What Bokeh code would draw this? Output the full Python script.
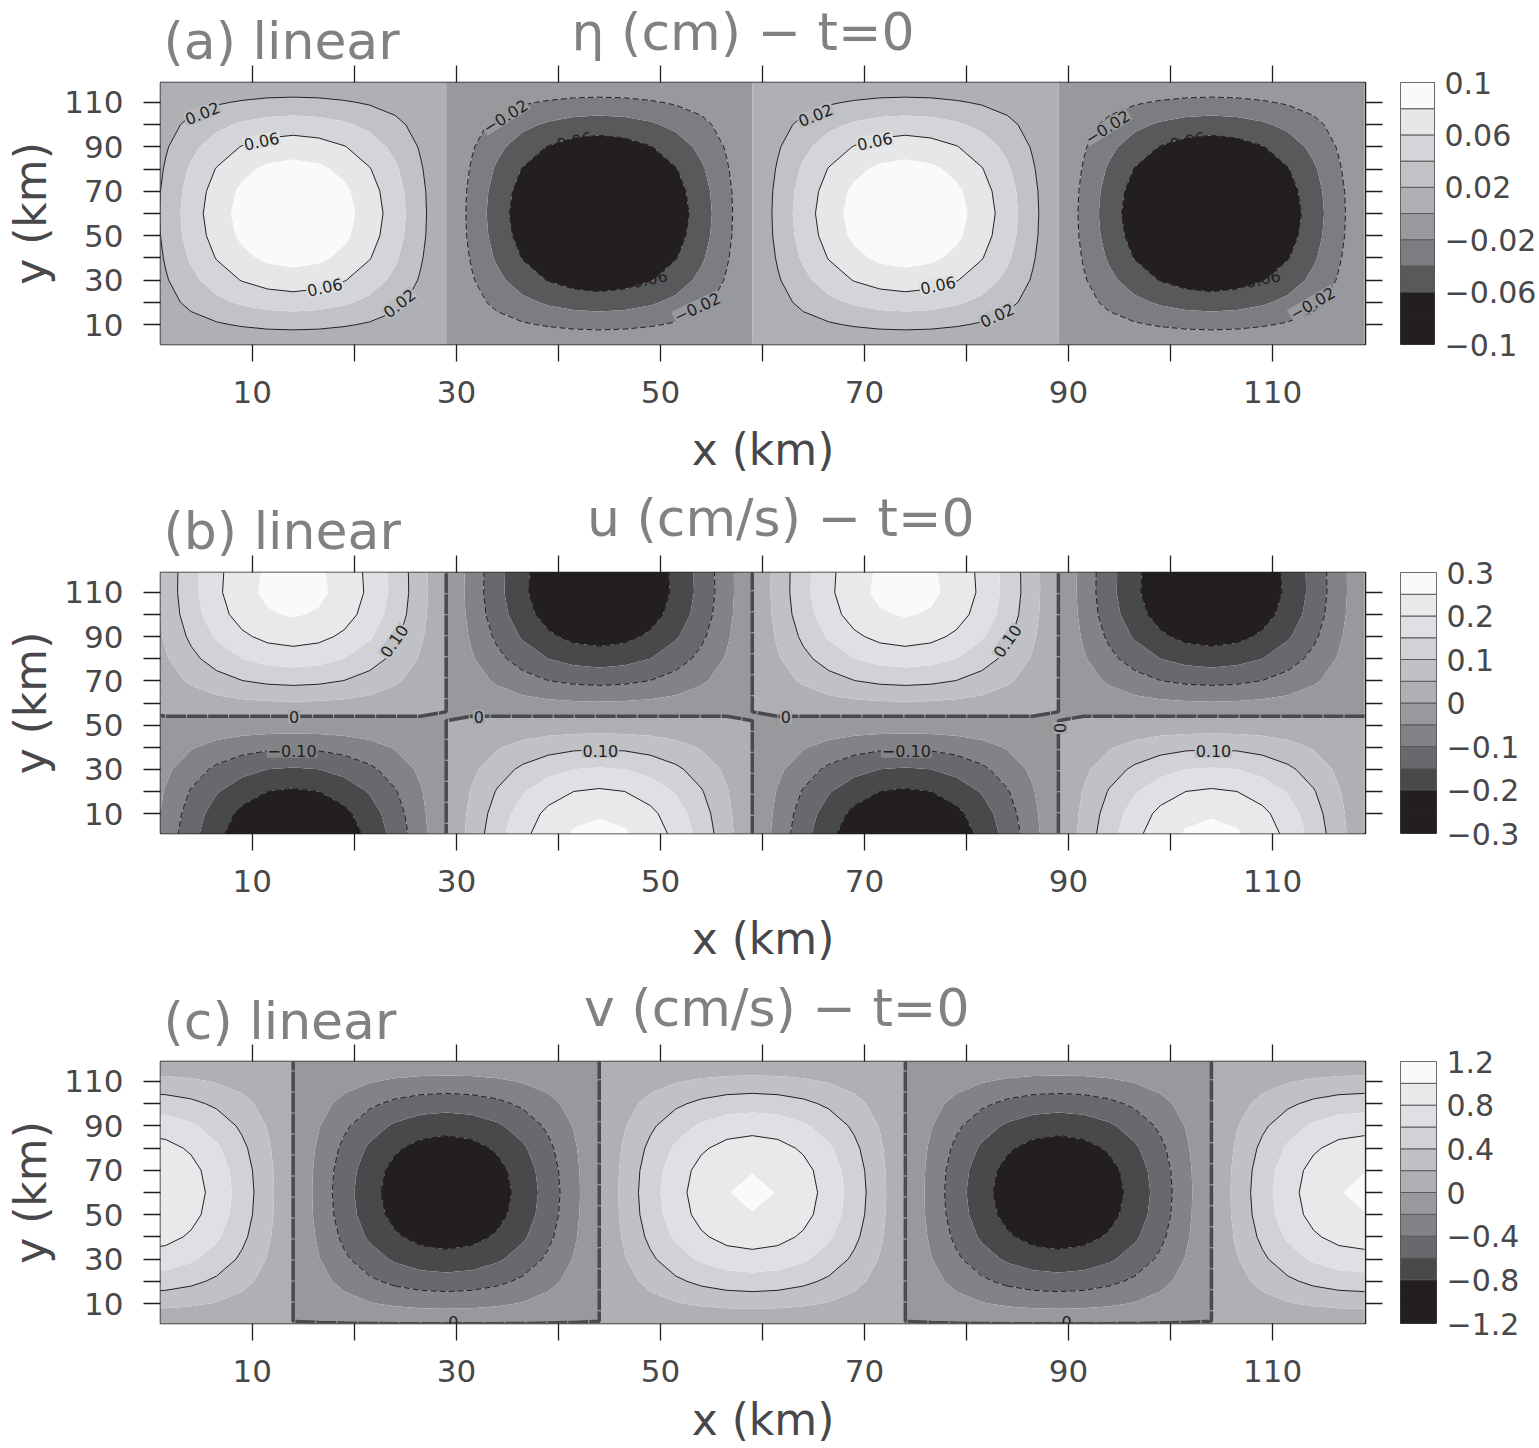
from bokeh.plotting import figure
from bokeh.layouts import column, row
from bokeh.models import FixedTicker, LinearAxis, Label, Range1d
from bokeh.core.properties import value
from bokeh.embed import file_html
from bokeh.resources import INLINE
import numpy as np

# ---------- data ----------
# x nodes every 2.5 km; one half lobe (zero to extreme) is listed per y row, the picture repeats it mirrored
GRID_X = [-1 + 2.5 * k for k in range(49)]

ETA_Y = [0, 10, 20, 30, 40, 50, 60]
ETA_HALF = [
 [0, .001, .001, .001, .001, .001, .001],
 [0, .007, .013, .018, .022, .025, .026],
 [0, .013, .025, .035, .043, .048, .050],
 [0, .018, .035, .050, .061, .068, .071],
 [0, .022, .043, .061, .075, .084, .087],
 [0, .025, .048, .068, .084, .093, .097],
 [0, .026, .050, .071, .087, .097, .100],
]

U_Y = [0, 10, 20, 30, 40, 50, 52, 54, 56, 60, 70, 80, 90, 100, 110, 120]
U_HALF = [
 [0, -.069, -.133, -.188, -.230, -.257, -.266],
 [0, -.063, -.122, -.173, -.212, -.237, -.245],
 [0, -.054, -.104, -.146, -.179, -.200, -.207],
 [0, -.040, -.078, -.110, -.134, -.150, -.155],
 [0, -.024, -.046, -.066, -.081, -.090, -.093],
 [0, -.006, -.012, -.017, -.021, -.023, -.024],
 [0, -.003, -.005, -.007, -.009, -.010, -.010],
 [0, 0, 0, 0, 0, 0, 0],
 [0, .005, .009, .013, .016, .017, .018],
 [0, .012, .023, .033, .040, .044, .046],
 [0, .030, .057, .081, .099, .110, .114],
 [0, .045, .087, .122, .150, .167, .173],
 [0, .057, .110, .156, .191, .213, .221],
 [0, .066, .127, .180, .220, .245, .254],
 [0, .070, .134, .190, .233, .260, .269],
 [0, .069, .133, .188, .230, .257, .266],
]

V_Y = [2, 10, 20, 30, 40, 50, 60, 70, 80, 90, 100, 110, 120]
V_HALF = [
 [0, .010, .020, .030, .035, .040, .040],
 [0, .069, .133, .189, .231, .258, .267],
 [0, .133, .258, .364, .446, .497, .515],
 [0, .189, .364, .515, .631, .703, .728],
 [0, .231, .446, .631, .772, .862, .892],
 [0, .258, .497, .703, .862, .961, .995],
 [0, .267, .515, .728, .892, .995, 1.03],
 [0, .258, .497, .703, .862, .961, .995],
 [0, .231, .446, .631, .772, .862, .892],
 [0, .189, .364, .515, .631, .703, .728],
 [0, .133, .258, .364, .446, .497, .515],
 [0, .069, .133, .189, .231, .258, .267],
 [0, .005, .010, .015, .020, .020, .020],
]
V_BOTTOM_VALUE = 0.03

ETA_BAR = [-0.1, -0.08, -0.06, -0.04, -0.02, 0, 0.02, 0.04, 0.06, 0.08, 0.1]
U_BAR = [-0.3, -0.25, -0.2, -0.15, -0.1, -0.05, 0, 0.05, 0.1, 0.15, 0.2, 0.25, 0.3]
V_BAR = [-1.2, -1.0, -0.8, -0.6, -0.4, -0.2, 0, 0.2, 0.4, 0.6, 0.8, 1.0, 1.2]

ETA_TICKS = [-0.1, -0.06, -0.02, 0.02, 0.06, 0.1]
ETA_TICK_TEXT = ["−0.1", "−0.06", "−0.02", "0.02", "0.06", "0.1"]
U_TICKS = [-0.3, -0.2, -0.1, 0, 0.1, 0.2, 0.3]
U_TICK_TEXT = ["−0.3", "−0.2", "−0.1", "0", "0.1", "0.2", "0.3"]
V_TICKS = [-1.2, -0.8, -0.4, 0, 0.4, 0.8, 1.2]
V_TICK_TEXT = ["−1.2", "−0.8", "−0.4", "0", "0.4", "0.8", "1.2"]

ETA_POS_LINES, ETA_NEG_LINES = [0.02, 0.06], [-0.06, -0.02]
U_POS_LINES, U_NEG_LINES = [0.1, 0.2], [-0.2, -0.1]
V_POS_LINES, V_NEG_LINES = [0.4, 0.8], [-0.8, -0.4]

TICK_MAJOR = [10, 30, 50, 70, 90, 110]
TICK_MINOR = [20, 40, 60, 80, 100]

ETA_LABELS = [(5.1,105.2,"0.02"),(10.9,92.6,"0.06"),(17.1,26.8,"0.06"),(24.4,19.6,"0.02"),
              (34.8,103.8,"−0.02"),(40.9,92.1,"−0.06"),(48.3,30,"−0.06"),(53.6,17.8,"−0.02"),
              (65.2,104.3,"0.02"),(71,92.6,"0.06"),(77.2,27.7,"0.06"),(83,14.2,"0.02"),
              (93.8,98.9,"−0.02"),(101,92.1,"−0.06"),(108.4,30,"−0.06"),(113.9,19.6,"−0.02")]
U_LABELS = [(23.9,88,"0.10"),(14.1,53.7,"0"),(32.2,53.7,"0"),(13.9,38.4,"−0.10"),(44.1,38.4,"0.10"),
            (62.3,53.7,"0"),(84,88,"0.10"),(74.1,38.4,"−0.10"),(104.2,38.4,"0.10"),(89.2,48.7,"0")]
V_LABELS = [(29.7,1.6,"0"),(89.8,1.6,"0")]

# ---------- styles ----------
C10 = ["#231f20","#231f20","#58595b","#7c7d80","#97999d","#aeb0b4","#c0c2c5","#d4d5d8","#e6e7e9","#fafafa"]
C12 = ["#231f20","#231f20","#48494b","#68696c","#818386","#97999c","#aeb0b3","#bfc1c5","#d0d2d5","#dfe0e3","#e8e9eb","#fafafa"]
ETA_ANG = [22,12,12,38,32,12,12,25,22,12,12,25,32,12,12,30]
ETA_BG = ["#b7b9bc","#dddee0","#dddee0","#b7b9bc","#97999d",None,None,"#97999d",
          "#b7b9bc","#dddee0","#dddee0","#b7b9bc","#97999d",None,None,"#97999d"]
U_ANG = [55,0,0,0,0,0,55,0,0,90]
U_BG = ["#bfc1c5","#a3a5a9","#a3a5a9","#818386","#bfc1c5","#a3a5a9","#bfc1c5","#818386","#bfc1c5","#a3a5a9"]
V_ANG = [0,0]
V_BG = [None,None]

FONT = "DejaVu Sans"
INK = "#48484a"
TITLE_INK = "#808184"
LW = 1.3
HEAD_OVERLAP = 20
HEAD_FONT = "52px"


def tiled(half_rows, start_at_peak=False):
    """Repeat the listed half lobes across the two full periods that the picture shows."""
    h = np.array(half_rows, float)
    lobe = np.hstack([h, h[:, -2::-1]])            # zero, extreme, zero
    period = np.hstack([lobe[:, :-1], -lobe[:, :-1]])
    if start_at_peak:
        period = np.roll(period, -6, axis=1)
    z = np.hstack([period, period, period[:, :1]])
    if np.allclose(z[:, -1], 0):
        z[:, -1] = z[:, -2] * 0.1                  # no zero line on the right edge
    return z


def style_axis(ax, labels=True):
    ax.ticker = FixedTicker(ticks=TICK_MAJOR, minor_ticks=TICK_MINOR)
    ax.major_tick_in = 0
    ax.major_tick_out = 17
    ax.minor_tick_in = 0
    ax.minor_tick_out = 17
    ax.major_tick_line_color = "#231f20"
    ax.minor_tick_line_color = "#231f20"
    ax.major_tick_line_width = LW
    ax.minor_tick_line_width = LW
    ax.axis_line_color = None
    ax.major_label_text_font = FONT
    ax.major_label_text_color = INK
    ax.major_label_text_font_size = "31px"
    if not labels:
        ax.major_label_overrides = {t: "" for t in TICK_MAJOR}
        ax.major_label_standoff = 0
    ax.axis_label_text_font = FONT
    ax.axis_label_text_font_style = "normal"
    ax.axis_label_text_color = INK
    ax.axis_label_text_font_size = "44px"


def heading(visible_height, tag, tag_from_top, title, title_x, title_from_top):
    height = visible_height + HEAD_OVERLAP
    h = figure(width=1539, height=height, x_range=Range1d(1, 119.1), y_range=Range1d(height, 0),
               output_backend="svg", toolbar_location=None, min_border_left=160, min_border_right=174,
               min_border_top=0, min_border_bottom=0, outline_line_color=None, border_fill_color=None,
               background_fill_color=None, x_axis_location=None, y_axis_location=None,
               margin=(0, 0, -HEAD_OVERLAP, 0))
    h.grid.visible = False
    h.text(x=[1.3], y=[tag_from_top], text=[tag], text_font=value(FONT), text_font_size=HEAD_FONT,
           text_color=TITLE_INK, text_baseline="middle", text_align="left")
    h.text(x=[title_x], y=[title_from_top], text=[title], text_font=value(FONT), text_font_size=HEAD_FONT,
           text_color=TITLE_INK, text_baseline="middle", text_align="center")
    return h


def panel(y, z, grid_levels, colors, pos, neg, labels, angs, bgs, border, zero_line=True, xlabel_standoff=18):
    top, frame_h, bottom = border
    p = figure(width=1385, height=top + frame_h + bottom, x_range=Range1d(1, 119.1), y_range=Range1d(1, 119),
               output_backend="svg", toolbar_location=None, min_border_left=160, min_border_right=20,
               min_border_top=top, min_border_bottom=bottom, background_fill_color="#ffffff",
               border_fill_color=None, outline_line_color="#231f20", outline_line_width=1.5)
    p.grid.visible = False
    x, y = np.array(GRID_X, float), np.array(y, float)
    lo, hi = grid_levels[0] * 1.5, grid_levels[-1] * 1.5
    fill_levels = [lo] + list(grid_levels[2:-1]) + [hi]
    p.contour(x, y, z, fill_levels, fill_color=colors[1:], line_color=None)
    p.contour(x, y, z, pos, line_color="#231f20", line_width=1.0)
    p.contour(x, y, z, neg, line_color="#231f20", line_width=1.0, line_dash="6 3")
    if zero_line:
        p.contour(x, y, z, [0.0], line_color="#4a4a4c", line_width=3.5, line_dash="20 1")

    style_axis(p.xaxis[0]); style_axis(p.yaxis[0])
    p.xaxis[0].axis_label = "x (km)"
    p.yaxis[0].axis_label = "y (km)"
    p.xaxis[0].major_label_standoff = 19
    p.yaxis[0].major_label_standoff = 20
    p.xaxis[0].axis_label_standoff = xlabel_standoff
    p.yaxis[0].axis_label_standoff = 5
    t = LinearAxis(); style_axis(t, False); p.add_layout(t, "above")
    r = LinearAxis(); style_axis(r, False); p.add_layout(r, "right")

    for (lx, ly, txt), a, bg in zip(labels, angs, bgs):
        p.add_layout(Label(x=lx, y=ly, text=txt, angle=a, angle_units="deg", text_align="center",
                           text_baseline="middle", text_font=FONT, text_font_size="16px",
                           text_color="#231f20", background_fill_color=bg, padding=1))
    return p


def bar(levels, colors, ticks, tick_text, border):
    top, frame_h, bottom = border
    b = figure(width=154, height=top + frame_h + bottom, x_range=Range1d(0, 1), y_range=Range1d(levels[0], levels[-1]),
               output_backend="svg", toolbar_location=None, min_border_left=15, min_border_right=103,
               min_border_top=top, min_border_bottom=bottom, border_fill_color=None,
               outline_line_color="#58595b", outline_line_width=1, y_axis_location="right")
    b.grid.visible = False
    b.xaxis.visible = False
    edge = ["#231f20" if c == "#231f20" else "#58595b" for c in colors]
    b.quad(left=0, right=1, bottom=levels[:-1], top=levels[1:], fill_color=colors,
           line_color=edge, line_width=1)
    ax = b.yaxis[0]
    ax.ticker = FixedTicker(ticks=ticks)
    ax.major_label_overrides = dict(zip(ticks, tick_text))
    ax.major_tick_line_color = None
    ax.minor_tick_line_color = None
    ax.axis_line_color = None
    ax.major_tick_in = 0
    ax.major_tick_out = 0
    ax.major_label_standoff = 10
    ax.major_label_text_font = FONT
    ax.major_label_text_font_size = "30px"
    ax.major_label_text_color = INK
    return b


eta_half = ETA_HALF + ETA_HALF[-2::-1]
eta_y = ETA_Y + [120 - v for v in ETA_Y[-2::-1]]
z_eta = tiled(eta_half)
z_u = tiled(U_HALF)
z_v = tiled(V_HALF, start_at_peak=True)
z_v = np.vstack([np.full((1, z_v.shape[1]), V_BOTTOM_VALUE), z_v])
v_y = [0] + V_Y

BA, BB, BC = (17, 262, 145), (17, 261, 145), (17, 262, 125)
pa = panel(eta_y, z_eta, ETA_BAR, C10, ETA_POS_LINES, ETA_NEG_LINES, ETA_LABELS, ETA_ANG, ETA_BG, BA, zero_line=False)
pb = panel(U_Y, z_u, U_BAR, C12, U_POS_LINES, U_NEG_LINES, U_LABELS, U_ANG, U_BG, BB)
pc = panel(v_y, z_v, V_BAR, C12, V_POS_LINES, V_NEG_LINES, V_LABELS, V_ANG, V_BG, BC, xlabel_standoff=9)

layout = column(
    heading(65, "(a) linear", 40, "η (cm) − t=0", 58.1, 31),
    row(pa, bar(ETA_BAR, C10, ETA_TICKS, ETA_TICK_TEXT, BA), spacing=0),
    heading(66, "(b) linear", 41, "u (cm/s) − t=0", 61.8, 28),
    row(pb, bar(U_BAR, C12, U_TICKS, U_TICK_TEXT, BB), spacing=0),
    heading(66, "(c) linear", 42, "v (cm/s) − t=0", 61.4, 29),
    row(pc, bar(V_BAR, C12, V_TICKS, V_TICK_TEXT, BC), spacing=0),
    spacing=0)

open("out.html", "w").write(file_html(layout, INLINE))
